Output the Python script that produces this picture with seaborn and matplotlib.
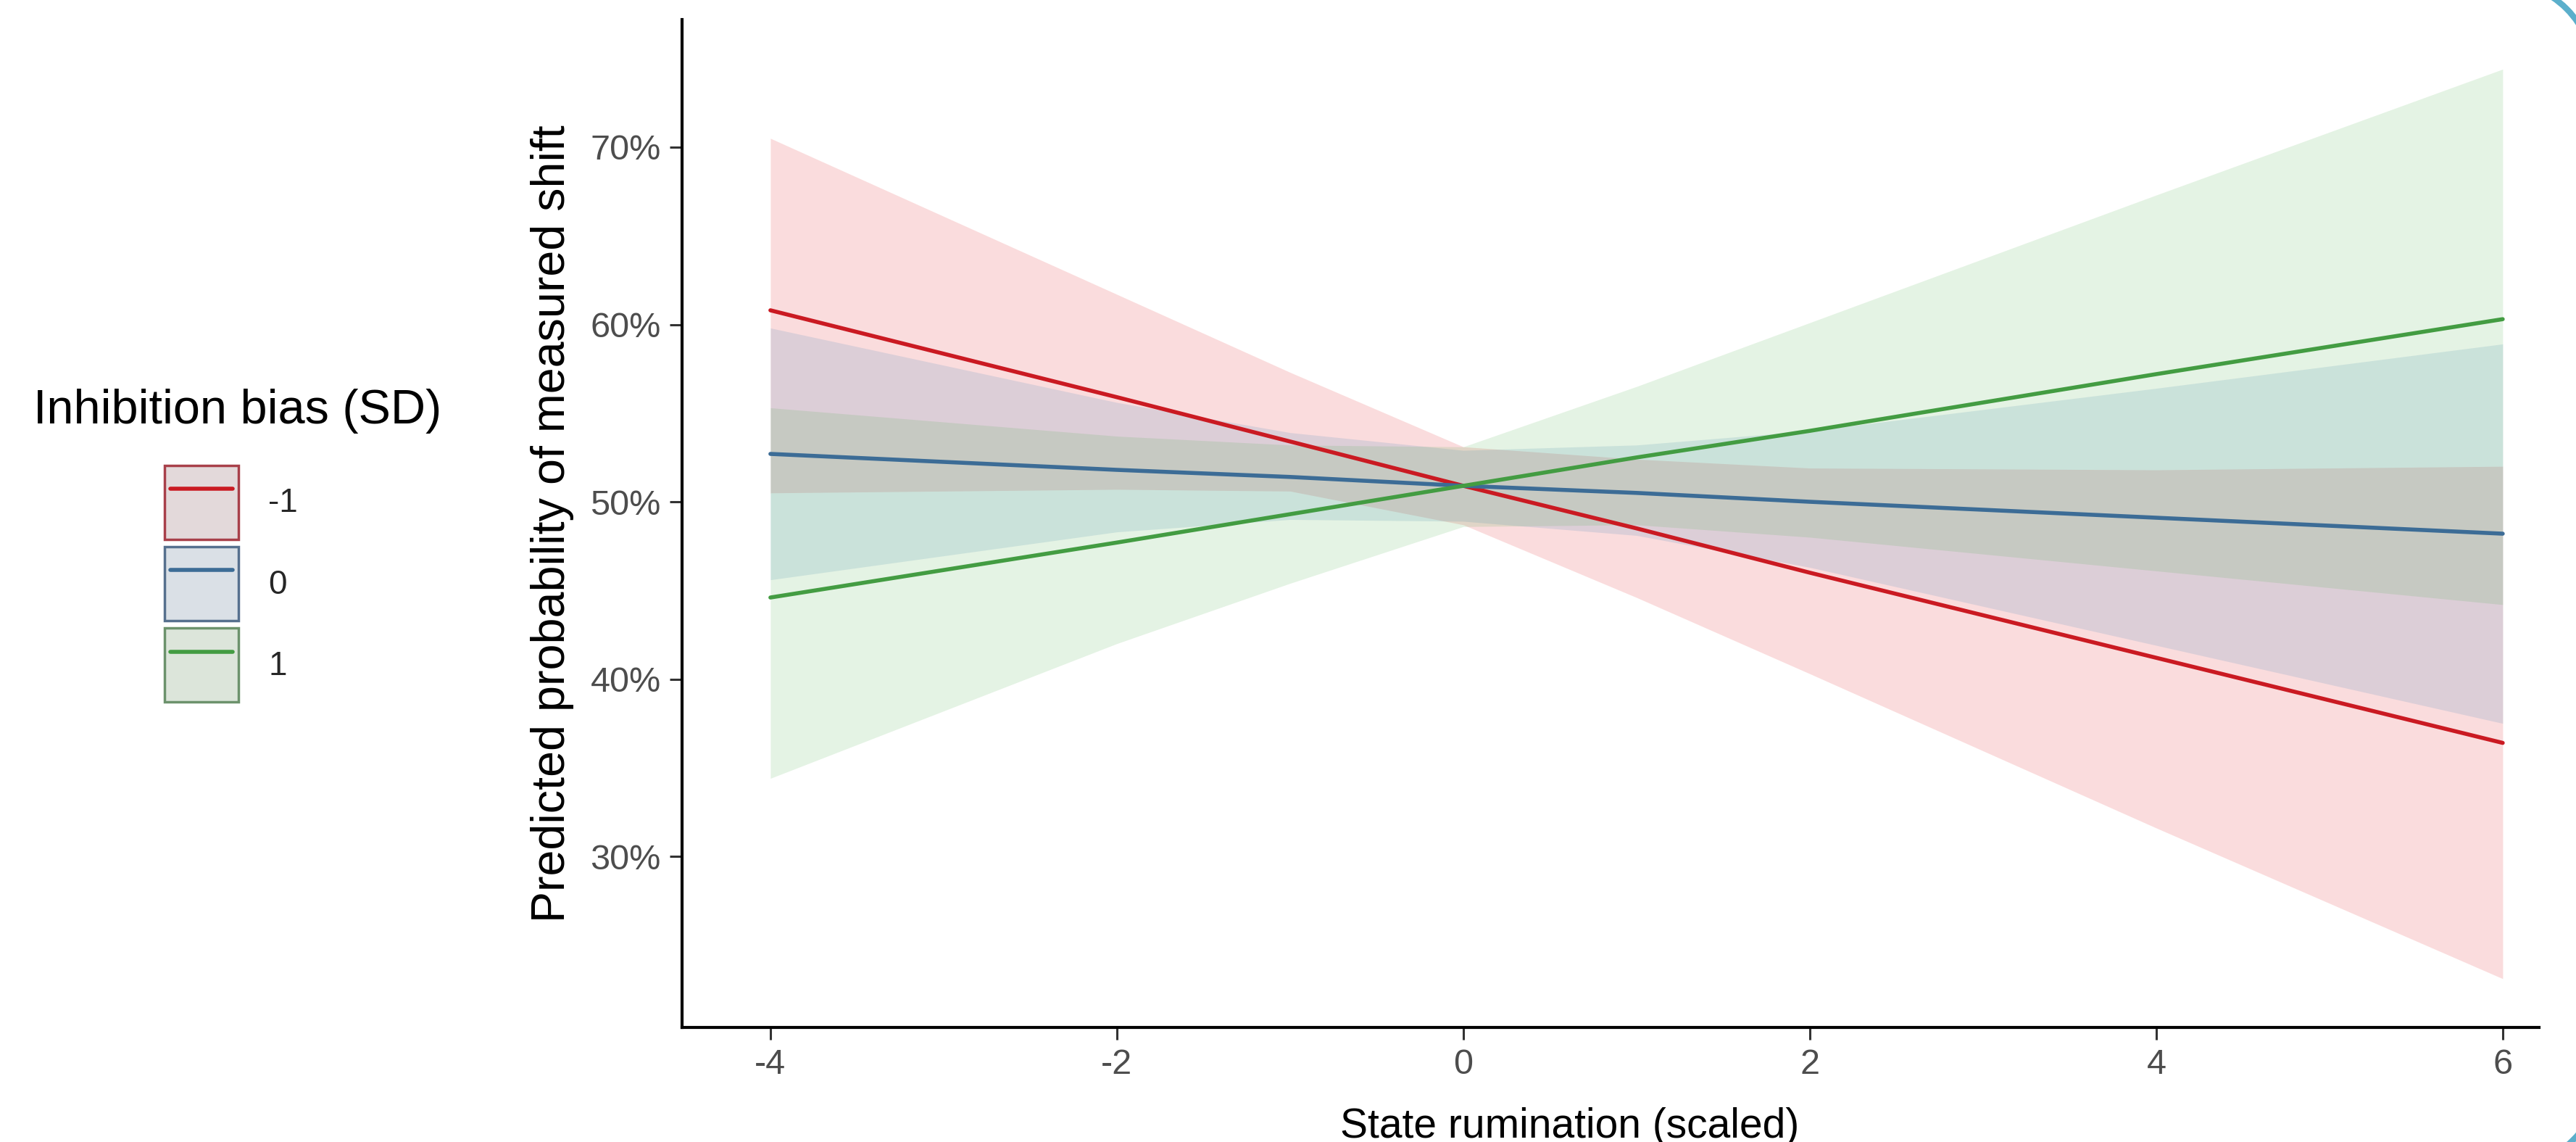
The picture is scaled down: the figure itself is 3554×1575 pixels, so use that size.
import pandas as pd
import matplotlib
matplotlib.use("Agg")
import matplotlib.pyplot as plt
import seaborn as sns
from matplotlib.lines import Line2D
from matplotlib.patches import Patch, Arc
from matplotlib.legend_handler import HandlerTuple, HandlerLine2D
from matplotlib.ticker import PercentFormatter

# Predicted probabilities (%)
x_vals = [-4, -2, -1, 0, 1, 2, 4, 6]
groups = ["-1", "0", "1"]

fit_neg = [60.8, 55.9, 53.4, 50.9, 48.5, 46.0, 41.2, 36.4]
hi_neg = [70.5, 61.7, 57.3, 53.1, 52.4, 51.9, 51.8, 52.0]
lo_neg = [50.5, 50.7, 50.6, 48.7, 44.6, 40.3, 31.6, 23.1]

fit_zero = [52.7, 51.8, 51.4, 50.9, 50.5, 50.0, 49.1, 48.2]
hi_zero = [59.8, 55.6, 53.9, 52.9, 53.2, 54.0, 56.4, 58.9]
lo_zero = [45.6, 48.3, 49.0, 48.9, 48.1, 46.3, 41.9, 37.5]

fit_pos = [44.6, 47.7, 49.3, 50.9, 52.5, 54.0, 57.2, 60.3]
hi_pos = [55.3, 53.7, 53.2, 53.1, 56.5, 60.1, 67.3, 74.4]
lo_pos = [34.4, 42.0, 45.4, 48.6, 48.7, 48.0, 46.1, 44.2]

y_ticks = [30, 40, 50, 60, 70]
x_ticks = [-4, -2, 0, 2, 4, 6]

band_colors = {"-1": "#E41A1C", "0": "#377EB8", "1": "#4DAF4A"}
line_colors = {"-1": "#CA1A22", "0": "#3C6C96", "1": "#439C42"}
key_fill = {"-1": "#E3D9DA", "0": "#DAE0E6", "1": "#DCE5DA"}
key_edge = {"-1": "#A8404A", "0": "#56708E", "1": "#6C926C"}

df = pd.DataFrame({
    "x": x_vals * 3,
    "fit": fit_neg + fit_zero + fit_pos,
    "lo": lo_neg + lo_zero + lo_pos,
    "hi": hi_neg + hi_zero + hi_pos,
    "group": [g for g in groups for _ in x_vals],
})

sns.set_theme(style="ticks")
plt.rcParams["font.family"] = ["Liberation Sans", "DejaVu Sans"]
plt.rcParams["axes.unicode_minus"] = False

fig = plt.figure(figsize=(35.55, 15.75), dpi=100)
ax = fig.add_axes([0.2647, 0.1003, 0.7207, 0.8826])

# confidence bands first, then the fitted lines
for g in groups:
    sub = df[df["group"] == g]
    ax.fill_between(sub["x"], sub["lo"], sub["hi"], color=band_colors[g],
                    alpha=0.15, linewidth=0)
sns.lineplot(data=df, x="x", y="fit", hue="group", palette=line_colors,
             estimator=None, linewidth=4, legend=False, ax=ax)

ax.set_xlim(-4.51, 6.21)
ax.set_ylim(20.35, 77.2)
ax.set_xticks(x_ticks)
ax.set_yticks(y_ticks)
ax.yaxis.set_major_formatter(PercentFormatter(decimals=0))

sns.despine(ax=ax)
for side in ["left", "bottom"]:
    ax.spines[side].set_linewidth(3)
    ax.spines[side].set_color("black")
ax.tick_params(length=12, width=2.2, color="#333333", labelsize=35,
               labelcolor="#4D4D4D", pad=9)

ax.set_xlabel("State rumination (scaled)", fontsize=41, color="black")
ax.xaxis.set_label_coords(0.478, -0.079)
ax.set_ylabel("Predicted probability of measured shift", fontsize=46.5, color="black")
ax.yaxis.set_label_coords(-0.058, 0.5)

# legend on the left
fig.text(328 / 3555, 1 - 567 / 1575, "Inhibition bias (SD)", ha="center",
         va="center", fontsize=48, color="black")
handles = [(Patch(facecolor=key_fill[g], edgecolor=key_edge[g], linewidth=2.5),
            Line2D([], [], color=line_colors[g], linewidth=4)) for g in groups]
fig.legend(handles, groups,
           handler_map={tuple: HandlerTuple(ndivide=1, pad=0),
                        Line2D: HandlerLine2D(marker_pad=0.18, numpoints=2)},
           loc="upper left", bbox_to_anchor=(227 / 3555, 1 - 642 / 1575),
           frameon=False, fontsize=33, handlelength=2.23, handleheight=3.05,
           labelspacing=0.22, handletextpad=0.9, borderpad=0, borderaxespad=0)

# bits of a rounded blue frame visible at the right corners
fig.add_artist(Arc((3449 / 3555, 1 - 104 / 1575), 260 / 3555, 260 / 1575,
                   theta1=0, theta2=90, transform=fig.transFigure,
                   color="#5BAFCB", linewidth=6))
fig.add_artist(Arc((3449 / 3555, 1 - 1471 / 1575), 286 / 3555, 286 / 1575,
                   theta1=270, theta2=360, transform=fig.transFigure,
                   color="#5BAFCB", linewidth=6))

fig.savefig("out.png", dpi=100)
